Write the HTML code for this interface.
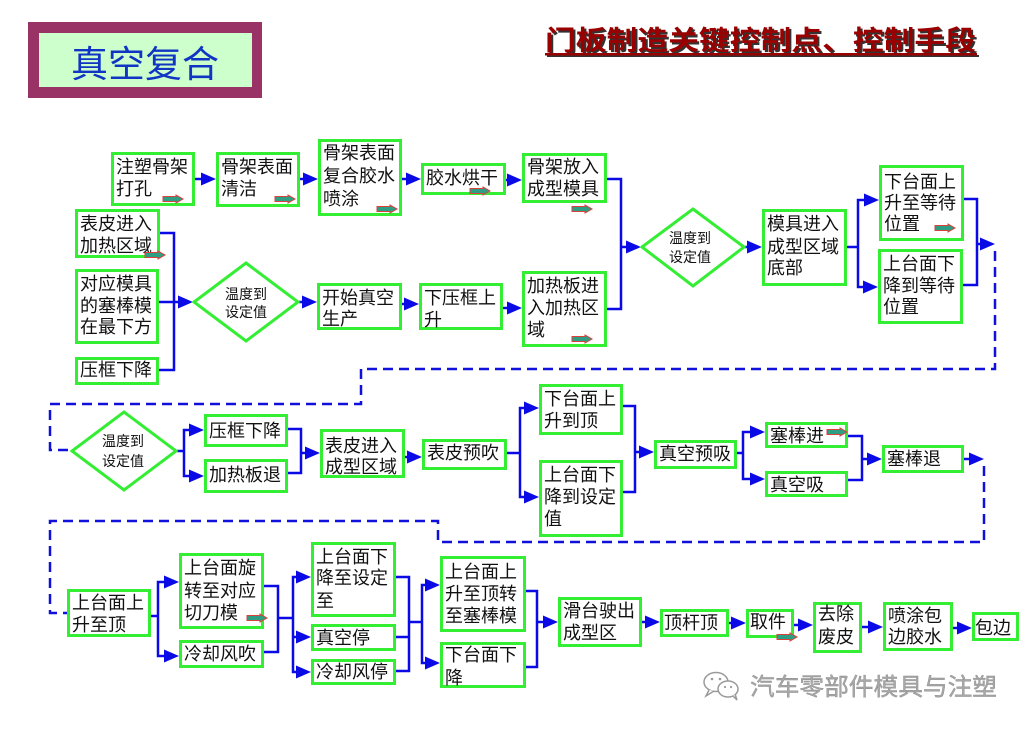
<!DOCTYPE html>
<html><head><meta charset="utf-8"><style>
html,body{margin:0;padding:0;background:#fff;}
svg{display:block;}
.b{fill:#fff;stroke:#33ee33;stroke-width:3;}
.t{font-family:"Liberation Sans","Noto Sans CJK SC",sans-serif;font-size:18px;fill:#111;}
.d{font-family:"Liberation Sans","Noto Sans CJK SC",sans-serif;font-size:14px;fill:#111;}
.c{fill:none;stroke:#0a0ae6;stroke-width:2.5;}
.a{fill:#0a0ae6;}
.ds{fill:none;stroke:#1010dd;stroke-width:2.5;stroke-dasharray:10,6;}
.sa{fill:#2e9d84;stroke:#d9413a;stroke-width:1;}
.dm{fill:#fff;stroke:#33ee33;stroke-width:3;}
</style></head><body>
<svg width="1031" height="731" viewBox="0 0 1031 731" xmlns="http://www.w3.org/2000/svg">
<!-- header -->
<rect x="28" y="22" width="234" height="76" fill="#993366"/>
<rect x="39" y="33" width="213" height="54" fill="#ccffcc"/>
<text x="145" y="77" text-anchor="middle" font-family="'Liberation Sans','Noto Sans CJK SC',sans-serif" font-size="37" fill="#1034c4">真空复合</text>
<g font-family="'Liberation Sans','Noto Sans CJK SC',sans-serif" font-size="27" font-weight="bold">
<text x="547" y="52" textLength="431" lengthAdjust="spacingAndGlyphs" fill="#333">门板制造关键控制点、控制手段</text>
<text x="545" y="50" textLength="431" lengthAdjust="spacingAndGlyphs" fill="#990000">门板制造关键控制点、控制手段</text>
</g>
<rect x="547" y="55" width="432" height="2" fill="#333"/>
<rect x="545" y="53" width="432" height="2.5" fill="#990000"/>

<!-- dashed connectors -->
<path class="ds" d="M995,251 V369 H361 V404 H50 V450 H71"/>
<path class="ds" d="M984,466 V542 H438 V521 H50 V613 H67"/>

<!-- solid connectors -->
<g class="c">
<path d="M195,179 H203"/><path d="M300,179 H305"/><path d="M402,179 H408"/><path d="M506,180 H510"/>
<path d="M160,233 H174 V370 H159"/><path d="M159,302 H180"/>
<path d="M299,302 H304"/><path d="M402,304 H406"/><path d="M503,308 H509"/>
<path d="M607,179 H621 V309 H607"/><path d="M621,247 H628"/>
<path d="M745,247 H749"/>
<path d="M847,247 H858"/><path d="M866,200 H858 V287 H865"/>
<path d="M964,199 H977 V285 H963"/><path d="M977,244 H982"/>
<path d="M177,451 H184"/><path d="M191,430 H184 V476 H191"/>
<path d="M288,429 H301 V473 H288"/><path d="M301,453 H307"/>
<path d="M405,457 H409"/>
<path d="M507,453 H520"/><path d="M526,408 H520 V497 H526"/>
<path d="M623,406 H635 V492 H623"/><path d="M635,452 H641"/>
<path d="M737,453 H743"/><path d="M752,432 H743 V479 H752"/>
<path d="M848,436 H862 V480 H848"/><path d="M862,459 H869"/>
<path d="M964,459 H971"/>
<path d="M151,616 H158"/><path d="M166,582 H158 V656 H166"/>
<path d="M264,586 H278 V652 H264"/><path d="M278,618 H293"/>
<path d="M298,577 H293 V672 H298"/><path d="M293,637 H298"/>
<path d="M396,577 H409 V671 H396"/><path d="M396,637 H409"/><path d="M409,622 H422"/>
<path d="M427,585 H422 V663 H427"/>
<path d="M526,591 H537 V667 H526"/><path d="M537,622 H545"/>
<path d="M642,622 H647"/><path d="M729,623 H733"/><path d="M794,625 H800"/><path d="M862,627 H870"/><path d="M953,628 H959"/>
</g>
<g class="a">
<polygon points="216,179 201,172.5 201,185.5"/>
<polygon points="318,179 303,172.5 303,185.5"/>
<polygon points="421,179 406,172.5 406,185.5"/>
<polygon points="522,180 507,173.5 507,186.5"/>
<polygon points="193,302 178,295.5 178,308.5"/>
<polygon points="317,302 302,295.5 302,308.5"/>
<polygon points="419,304 404,297.5 404,310.5"/>
<polygon points="522,308 507,301.5 507,314.5"/>
<polygon points="641,247 626,240.5 626,253.5"/>
<polygon points="762,247 747,240.5 747,253.5"/>
<polygon points="879,200 864,193.5 864,206.5"/>
<polygon points="878,287 863,280.5 863,293.5"/>
<polygon points="995,244 980,237.5 980,250.5"/>
<polygon points="204,430 189,423.5 189,436.5"/>
<polygon points="204,476 189,469.5 189,482.5"/>
<polygon points="320,453 305,446.5 305,459.5"/>
<polygon points="422,457 407,450.5 407,463.5"/>
<polygon points="539,408 524,401.5 524,414.5"/>
<polygon points="539,497 524,490.5 524,503.5"/>
<polygon points="654,452 639,445.5 639,458.5"/>
<polygon points="765,432 750,425.5 750,438.5"/>
<polygon points="765,479 750,472.5 750,485.5"/>
<polygon points="882,459 867,452.5 867,465.5"/>
<polygon points="984,459 969,452.5 969,465.5"/>
<polygon points="179,582 164,575.5 164,588.5"/>
<polygon points="179,656 164,649.5 164,662.5"/>
<polygon points="311,577 296,570.5 296,583.5"/>
<polygon points="311,637 296,630.5 296,643.5"/>
<polygon points="311,672 296,665.5 296,678.5"/>
<polygon points="440,585 425,578.5 425,591.5"/>
<polygon points="440,663 425,656.5 425,669.5"/>
<polygon points="558,622 543,615.5 543,628.5"/>
<polygon points="660,622 645,615.5 645,628.5"/>
<polygon points="746,623 731,616.5 731,629.5"/>
<polygon points="813,625 798,618.5 798,631.5"/>
<polygon points="883,627 868,620.5 868,633.5"/>
<polygon points="972,628 957,621.5 957,634.5"/>
</g>

<!-- diamonds -->
<polygon class="dm" points="246,263 298,302 246,341 194,302"/>
<text class="d" x="246" y="299" text-anchor="middle">温度到</text>
<text class="d" x="246" y="317" text-anchor="middle">设定值</text>
<polygon class="dm" points="693,209 744,247 693,286 642,247"/>
<text class="d" x="690" y="243" text-anchor="middle">温度到</text>
<text class="d" x="690" y="262" text-anchor="middle">设定值</text>
<polygon class="dm" points="124,412 176,451 124,490 72,451"/>
<text class="d" x="123" y="446" text-anchor="middle">温度到</text>
<text class="d" x="123" y="466" text-anchor="middle">设定值</text>

<!-- row 1 boxes -->
<rect class="b" x="112.5" y="153.5" width="81" height="51"/>
<text class="t" x="116" y="173">注塑骨架</text><text class="t" x="116" y="195">打孔</text>
<rect class="b" x="217.5" y="153.5" width="81" height="52"/>
<text class="t" x="221" y="173">骨架表面</text><text class="t" x="221" y="195">清洁</text>
<rect class="b" x="319.5" y="140.5" width="81" height="74"/>
<text class="t" x="323" y="159">骨架表面</text><text class="t" x="323" y="182">复合胶水</text><text class="t" x="323" y="205">喷涂</text>
<rect class="b" x="422.5" y="164.5" width="82" height="29"/>
<text class="t" x="426" y="184">胶水烘干</text>
<rect class="b" x="523.5" y="154.5" width="82" height="47"/>
<text class="t" x="527" y="173">骨架放入</text><text class="t" x="527" y="195">成型模具</text>
<rect class="b" x="76.5" y="210.5" width="82" height="46"/>
<text class="t" x="80" y="230">表皮进入</text><text class="t" x="80" y="252">加热区域</text>
<rect class="b" x="76.5" y="270.5" width="81" height="72"/>
<text class="t" x="80" y="290">对应模具</text><text class="t" x="80" y="312">的塞棒模</text><text class="t" x="80" y="333">在最下方</text>
<rect class="b" x="76.5" y="358.5" width="81" height="25"/>
<text class="t" x="80" y="376">压框下降</text>
<rect class="b" x="318.5" y="284.5" width="82" height="44"/>
<text class="t" x="322" y="304">开始真空</text><text class="t" x="322" y="325">生产</text>
<rect class="b" x="420.5" y="284.5" width="81" height="44"/>
<text class="t" x="424" y="304">下压框上</text><text class="t" x="424" y="326">升</text>
<rect class="b" x="523.5" y="272.5" width="82" height="73"/>
<text class="t" x="527" y="292">加热板进</text><text class="t" x="527" y="314">入加热区</text><text class="t" x="527" y="336">域</text>
<rect class="b" x="763.5" y="210.5" width="82" height="74"/>
<text class="t" x="767" y="230">模具进入</text><text class="t" x="767" y="253">成型区域</text><text class="t" x="767" y="274">底部</text>
<rect class="b" x="880.5" y="166.5" width="82" height="73"/>
<text class="t" x="884" y="188">下台面上</text><text class="t" x="884" y="209">升至等待</text><text class="t" x="884" y="230">位置</text>
<rect class="b" x="879.5" y="250.5" width="82" height="72"/>
<text class="t" x="883" y="270">上台面下</text><text class="t" x="883" y="292">降到等待</text><text class="t" x="883" y="313">位置</text>

<!-- row 2 boxes -->
<rect class="b" x="205.5" y="415.5" width="81" height="30"/>
<text class="t" x="209" y="437">压框下降</text>
<rect class="b" x="205.5" y="460.5" width="81" height="31"/>
<text class="t" x="209" y="481">加热板退</text>
<rect class="b" x="321.5" y="430.5" width="82" height="46"/>
<text class="t" x="325" y="452">表皮进入</text><text class="t" x="325" y="473">成型区域</text>
<rect class="b" x="423.5" y="440.5" width="82" height="28"/>
<text class="t" x="427" y="459">表皮预吹</text>
<rect class="b" x="540.5" y="385.5" width="81" height="48"/>
<text class="t" x="544" y="405">下台面上</text><text class="t" x="544" y="427">升到顶</text>
<rect class="b" x="540.5" y="461.5" width="81" height="74"/>
<text class="t" x="544" y="481">上台面下</text><text class="t" x="544" y="503">降到设定</text><text class="t" x="544" y="525">值</text>
<rect class="b" x="655.5" y="441.5" width="80" height="26"/>
<text class="t" x="659" y="460">真空预吸</text>
<rect class="b" x="766.5" y="423.5" width="80" height="23"/>
<text class="t" x="770" y="442">塞棒进</text>
<rect class="b" x="766.5" y="472.5" width="80" height="23"/>
<text class="t" x="770" y="491">真空吸</text>
<rect class="b" x="883.5" y="446.5" width="79" height="25"/>
<text class="t" x="887" y="465">塞棒退</text>

<!-- row 3 boxes -->
<rect class="b" x="68.5" y="590.5" width="81" height="45"/>
<text class="t" x="72" y="609">上台面上</text><text class="t" x="72" y="631">升至顶</text>
<rect class="b" x="180.5" y="554.5" width="82" height="73"/>
<text class="t" x="184" y="574">上台面旋</text><text class="t" x="184" y="597">转至对应</text><text class="t" x="184" y="619">切刀模</text>
<rect class="b" x="180.5" y="641.5" width="82" height="25"/>
<text class="t" x="184" y="660">冷却风吹</text>
<rect class="b" x="312.5" y="543.5" width="82" height="72"/>
<text class="t" x="316" y="563">上台面下</text><text class="t" x="316" y="584">降至设定</text><text class="t" x="316" y="607">至</text>
<rect class="b" x="312.5" y="625.5" width="82" height="24"/>
<text class="t" x="316" y="644">真空停</text>
<rect class="b" x="312.5" y="660.5" width="82" height="23"/>
<text class="t" x="316" y="678">冷却风停</text>
<rect class="b" x="441.5" y="557.5" width="83" height="73"/>
<text class="t" x="445" y="578">上台面上</text><text class="t" x="445" y="600">升至顶转</text><text class="t" x="445" y="622">至塞棒模</text>
<rect class="b" x="441.5" y="643.5" width="83" height="43"/>
<text class="t" x="445" y="661">下台面下</text><text class="t" x="445" y="684">降</text>
<rect class="b" x="559.5" y="598.5" width="81" height="47"/>
<text class="t" x="563" y="617">滑台驶出</text><text class="t" x="563" y="639">成型区</text>
<rect class="b" x="661.5" y="610.5" width="66" height="25"/>
<text class="t" x="664" y="629">顶杆顶</text>
<rect class="b" x="747.5" y="610.5" width="45" height="26"/>
<text class="t" x="750" y="628">取件</text>
<rect class="b" x="814.5" y="603.5" width="46" height="48"/>
<text class="t" x="818" y="620">去除</text><text class="t" x="818" y="643">废皮</text>
<rect class="b" x="884.5" y="603.5" width="67" height="46"/>
<text class="t" x="888" y="622">喷涂包</text><text class="t" x="888" y="643">边胶水</text>
<rect class="b" x="973.5" y="613.5" width="44" height="26"/>
<text class="t" x="975" y="634">包边</text>

<!-- small block arrows -->
<g class="sa">
<polygon points="163,196.5 176,196.5 176,195 183,199 176,203 176,201.5 163,201.5"/>
<polygon points="275,196.5 288,196.5 288,195 295,199 288,203 288,201.5 275,201.5"/>
<polygon points="377,206.5 390,206.5 390,205 397,209 390,213 390,211.5 377,211.5"/>
<polygon points="145,252.5 158,252.5 158,251 165,255 158,259 158,257.5 145,257.5"/>
<polygon points="470,188.5 483,188.5 483,187 490,191 483,195 483,193.5 470,193.5"/>
<polygon points="572,206.5 585,206.5 585,205 592,209 585,213 585,211.5 572,211.5"/>
<polygon points="572,336.5 585,336.5 585,335 592,339 585,343 585,341.5 572,341.5"/>
<polygon points="935,225.5 948,225.5 948,224 955,228 948,232 948,230.5 935,230.5"/>
<polygon points="827,429.5 840,429.5 840,428 847,432 840,436 840,434.5 827,434.5"/>
<polygon points="247,615.5 260,615.5 260,614 267,618 260,622 260,620.5 247,620.5"/>
<polygon points="777,634.5 790,634.5 790,633 797,637 790,641 790,639.5 777,639.5"/>
</g>

<!-- watermark -->
<g fill="#fff" stroke="#9a9a9a" stroke-width="1.5">
<ellipse cx="716" cy="682" rx="12" ry="9.5"/>
<path d="M709,690 L706,696 L714,691" fill="#fff"/>
<ellipse cx="728" cy="689" rx="10" ry="8"/>
<path d="M733,696 L737,700 L735,694" fill="#fff"/>
</g>
<g fill="#9a9a9a"><circle cx="712" cy="679" r="1.3"/><circle cx="720" cy="679" r="1.3"/><circle cx="725" cy="687" r="1.1"/><circle cx="731" cy="687" r="1.1"/></g>
<text x="750" y="695" font-family="'Liberation Sans','Noto Sans CJK SC',sans-serif" font-size="24" fill="#a8a8a8" stroke="#8a8a8a" stroke-width="0.4" textLength="247" lengthAdjust="spacingAndGlyphs">汽车零部件模具与注塑</text>
</svg>
</body></html>
